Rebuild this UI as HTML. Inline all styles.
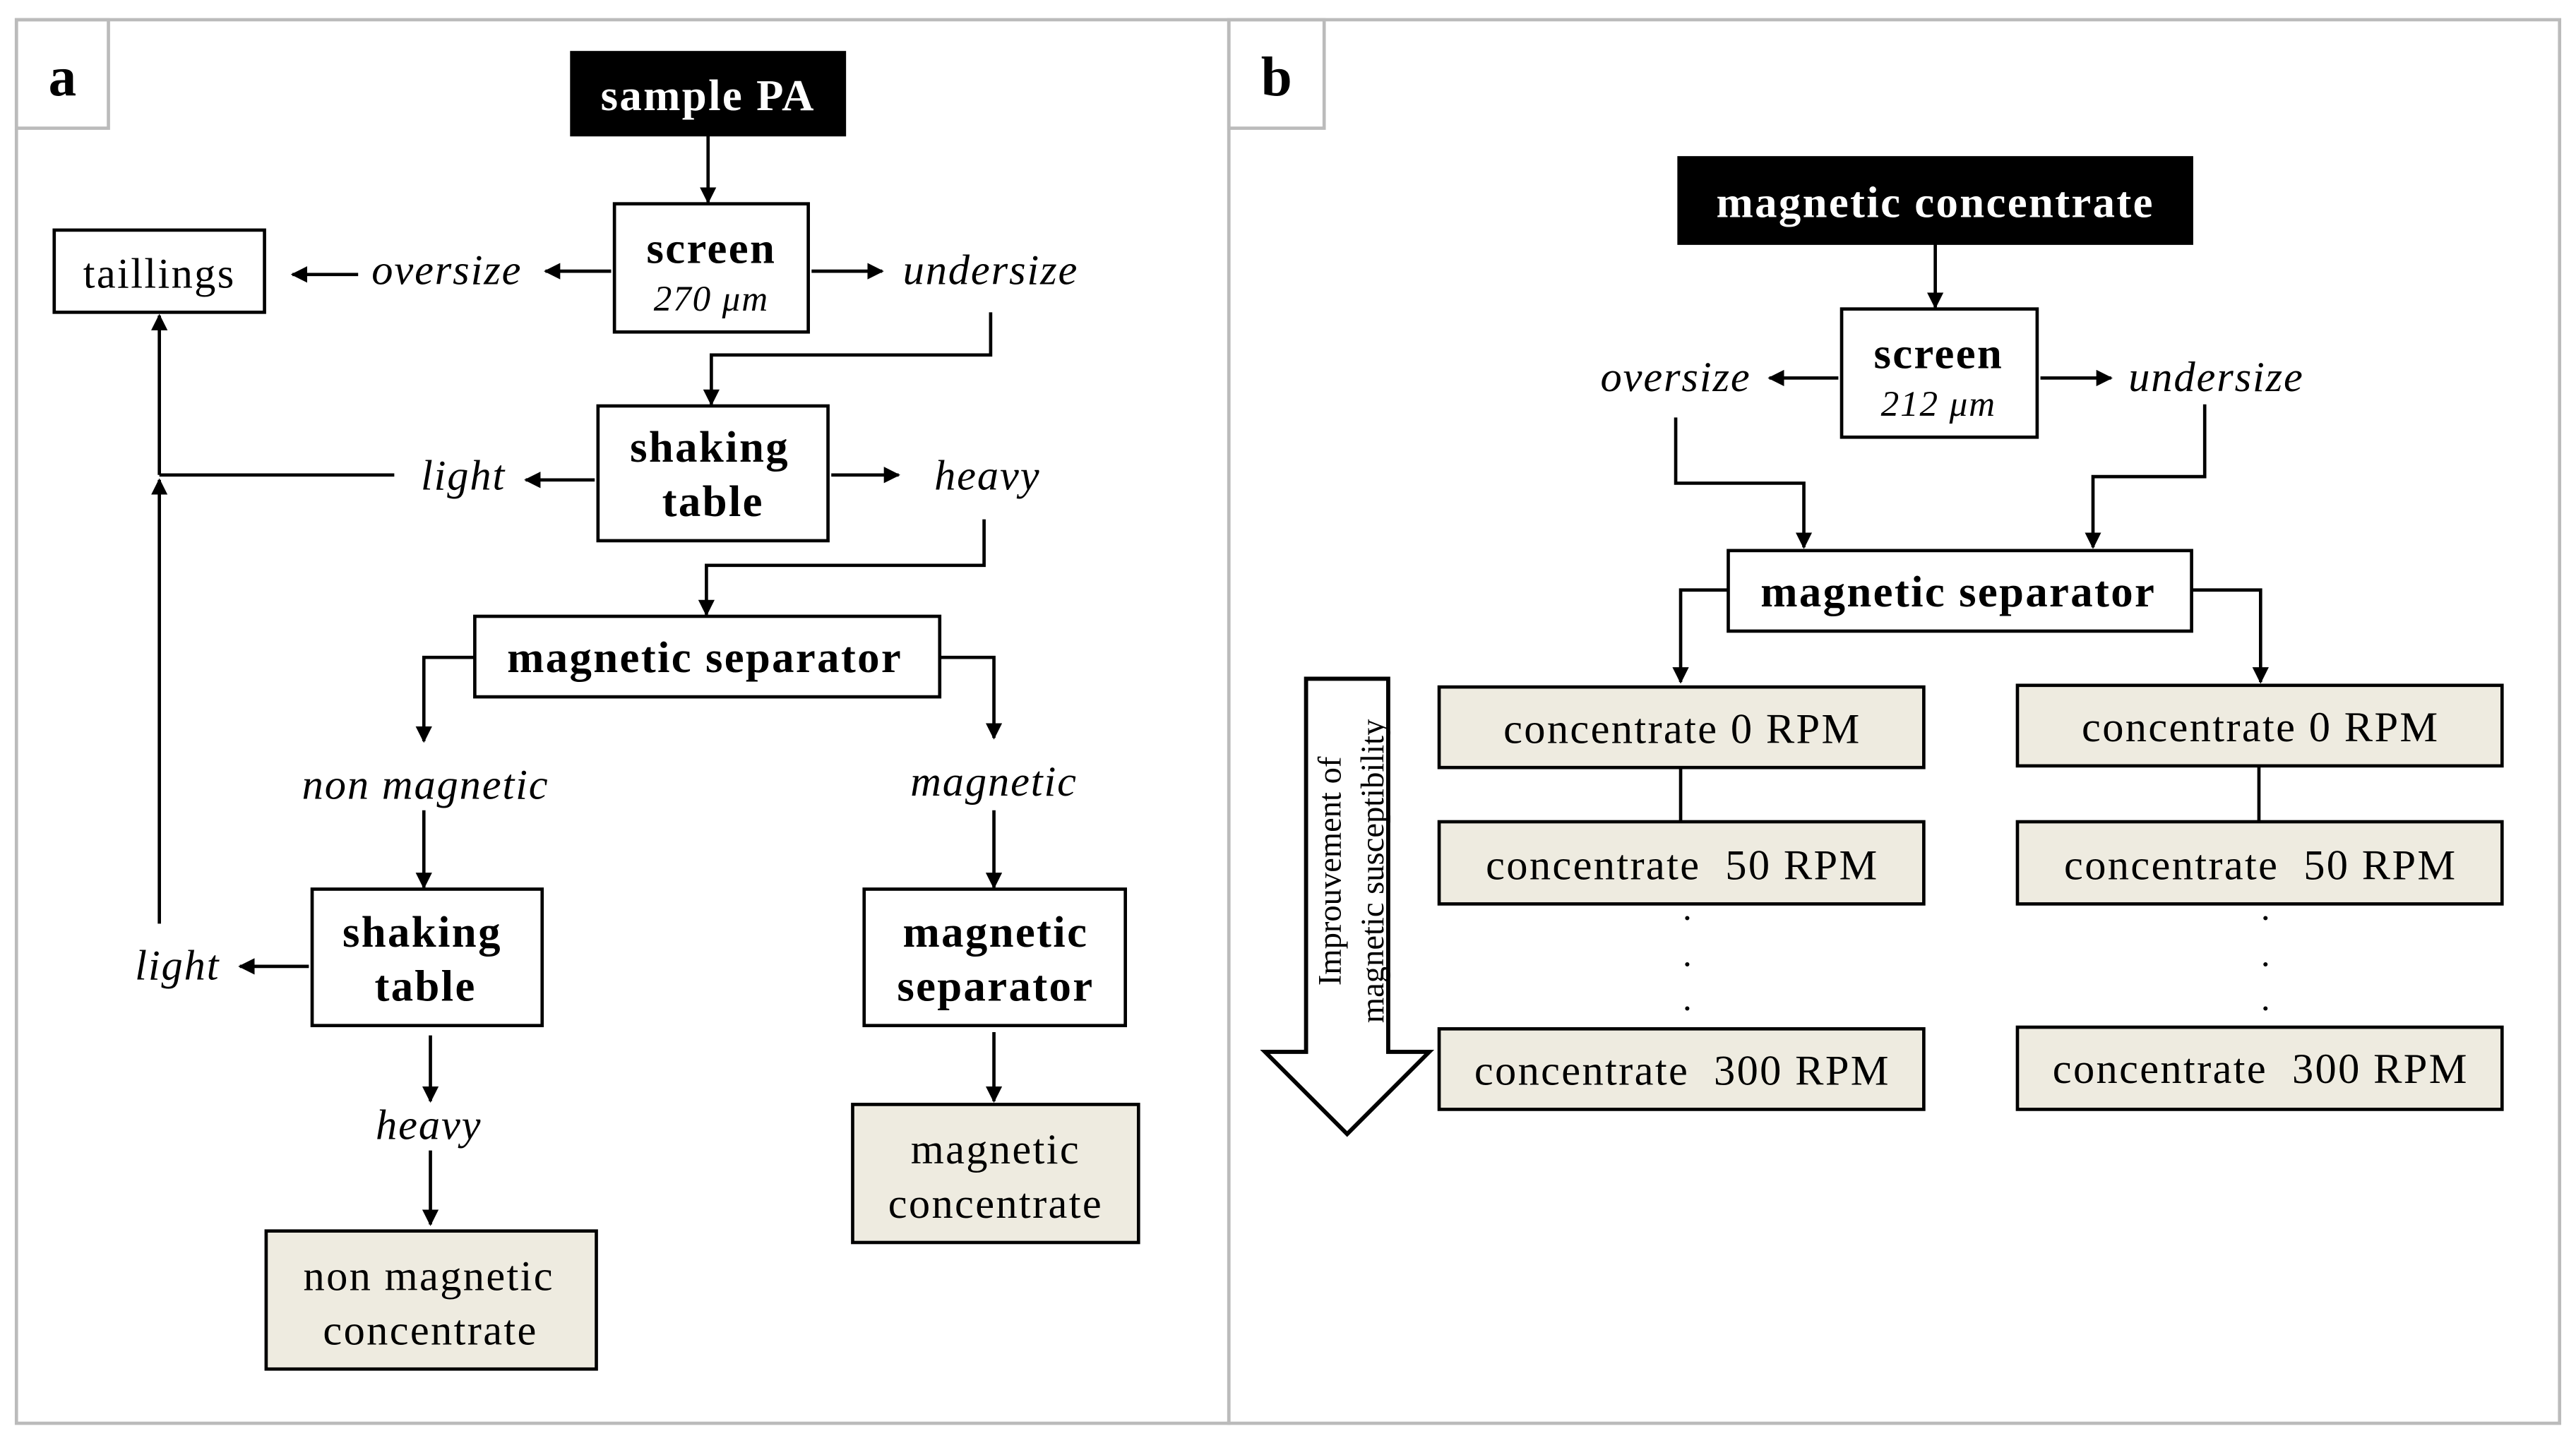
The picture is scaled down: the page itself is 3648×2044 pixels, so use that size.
<!DOCTYPE html>
<html><head><meta charset="utf-8"><style>
html,body{margin:0;padding:0;background:#fff}
svg{display:block}
text{font-family:"Liberation Serif",serif;fill:#000}
.b{font-weight:bold;font-size:27px;letter-spacing:1px}
.i{font-style:italic;font-size:26px;letter-spacing:0.8px}
.n{font-size:26px;letter-spacing:1px}
.w{fill:#fff;font-weight:bold;font-size:27px;letter-spacing:1px}
</style></head><body>
<svg width="3648" height="2044" viewBox="0 0 1568 878" preserveAspectRatio="none" xmlns="http://www.w3.org/2000/svg">
<defs><marker id="a" markerWidth="10" markerHeight="10" refX="9" refY="5" orient="auto" markerUnits="userSpaceOnUse"><path d="M0,0 L10,5 L0,10 z" fill="#000"/></marker></defs>
<g fill="none" stroke="#bbb" stroke-width="2">
<rect x="10" y="12" width="738" height="854"/><rect x="748" y="12" width="810" height="854"/>
<rect x="10" y="12" width="56" height="66"/><rect x="748" y="12" width="58" height="66"/>
</g>
<text x="38" y="58" text-anchor="middle" style="font-weight:bold;font-size:34px">a</text>
<text x="777" y="58" text-anchor="middle" style="font-weight:bold;font-size:34px">b</text>
<g stroke="#000" stroke-width="2">
<rect x="348" y="32" width="166" height="50" fill="#000"/>
<rect x="374" y="124" width="118" height="78" fill="#fff"/>
<rect x="33" y="140" width="128" height="50" fill="#fff"/>
<rect x="364" y="247" width="140" height="82" fill="#fff"/>
<rect x="289" y="375" width="283" height="49" fill="#fff"/>
<rect x="190" y="541" width="140" height="83" fill="#fff"/>
<rect x="526" y="541" width="159" height="83" fill="#fff"/>
<rect x="162" y="749" width="201" height="84" fill="#eeebe0"/>
<rect x="519" y="672" width="174" height="84" fill="#eeebe0"/>
<rect x="1022" y="96" width="312" height="52" fill="#000"/>
<rect x="1121" y="188" width="119" height="78" fill="#fff"/>
<rect x="1052" y="335" width="282" height="49" fill="#fff"/>
<rect x="876" y="418" width="295" height="49" fill="#eeebe0"/>
<rect x="876" y="500" width="295" height="50" fill="#eeebe0"/>
<rect x="876" y="626" width="295" height="49" fill="#eeebe0"/>
<rect x="1228" y="417" width="295" height="49" fill="#eeebe0"/>
<rect x="1228" y="500" width="295" height="50" fill="#eeebe0"/>
<rect x="1228" y="625" width="295" height="50" fill="#eeebe0"/>
</g>
<g stroke="#000" stroke-width="2" fill="none" marker-end="url(#a)">
<path d="M431,82 V123"/>
<path d="M372,165 H332"/><path d="M218,167 H178"/>
<path d="M494,165 H537"/>
<path d="M603,190 V216 H433 V246"/>
<path d="M362,292 H320"/>
<path d="M97,289 V192"/>
<path d="M506,289 H547"/>
<path d="M599,316 V344 H430 V374"/>
<path d="M289,400 H258 V451"/>
<path d="M572,400 H605 V449"/>
<path d="M258,493 V540"/>
<path d="M188,588 H146"/>
<path d="M97,562 V292"/>
<path d="M262,630 V670"/><path d="M262,700 V745"/>
<path d="M605,493 V540"/><path d="M605,628 V670"/>
<path d="M1178,148 V187"/>
<path d="M1119,230 H1077"/><path d="M1242,230 H1285"/>
<path d="M1020,254 V294 H1098 V333"/>
<path d="M1342,246 V290 H1274 V333"/>
<path d="M1052,359 H1023 V415"/>
<path d="M1334,359 H1376 V415"/>
</g>
<path d="M240,289 H97" stroke="#000" stroke-width="2"/>
<path d="M1023,467 V500 M1375,466 V500" stroke="#000" stroke-width="2"/>
<path d="M795,413 H845 V640 H870 L820,690 L770,640 H795 Z" fill="#fff" stroke="#000" stroke-width="2.5"/>
<g>
<text x="1027" y="566" text-anchor="middle" style="font-size:22px">·</text>
<text x="1027" y="594" text-anchor="middle" style="font-size:22px">·</text>
<text x="1027" y="621" text-anchor="middle" style="font-size:22px">·</text>
<text x="1379" y="566" text-anchor="middle" style="font-size:22px">·</text>
<text x="1379" y="594" text-anchor="middle" style="font-size:22px">·</text>
<text x="1379" y="621" text-anchor="middle" style="font-size:22px">·</text>
</g>
<text transform="translate(816,530) rotate(-90)" text-anchor="middle" style="font-size:20px">Improuvement of</text>
<text transform="translate(842,530) rotate(-90)" text-anchor="middle" style="font-size:20px">magnetic susceptibility</text>
<g text-anchor="middle">
<text class="w" x="431" y="67">sample PA</text>
<text class="b" x="433" y="160">screen</text>
<text class="i" x="433" y="189" style="font-size:22px">270 μm</text>
<text class="n" x="97" y="175">taillings</text>
<text class="i" x="272" y="173">oversize</text>
<text class="i" x="603" y="173">undersize</text>
<text class="b" x="432" y="281">shaking</text>
<text class="b" x="434" y="314">table</text>
<text class="i" x="282" y="298">light</text>
<text class="i" x="601" y="298">heavy</text>
<text class="b" x="429" y="409">magnetic separator</text>
<text class="i" x="259" y="486">non magnetic</text>
<text class="i" x="605" y="484">magnetic</text>
<text class="b" x="257" y="576">shaking</text>
<text class="b" x="259" y="609">table</text>
<text class="i" x="108" y="596">light</text>
<text class="b" x="606" y="576">magnetic</text>
<text class="b" x="606" y="609">separator</text>
<text class="i" x="261" y="693">heavy</text>
<text class="n" x="261" y="785">non magnetic</text>
<text class="n" x="262" y="818">concentrate</text>
<text class="n" x="606" y="708">magnetic</text>
<text class="n" x="606" y="741">concentrate</text>
<text class="w" x="1178" y="132">magnetic concentrate</text>
<text class="b" x="1180" y="224">screen</text>
<text class="i" x="1180" y="253" style="font-size:22px">212 μm</text>
<text class="i" x="1020" y="238">oversize</text>
<text class="i" x="1349" y="238">undersize</text>
<text class="b" x="1192" y="369">magnetic separator</text>
<text class="n" x="1024" y="452">concentrate 0 RPM</text>
<text class="n" x="1024" y="535" xml:space="preserve">concentrate  50 RPM</text>
<text class="n" x="1024" y="660" xml:space="preserve">concentrate  300 RPM</text>
<text class="n" x="1376" y="451">concentrate 0 RPM</text>
<text class="n" x="1376" y="535" xml:space="preserve">concentrate  50 RPM</text>
<text class="n" x="1376" y="659" xml:space="preserve">concentrate  300 RPM</text>
</g>
</svg>
</body></html>
